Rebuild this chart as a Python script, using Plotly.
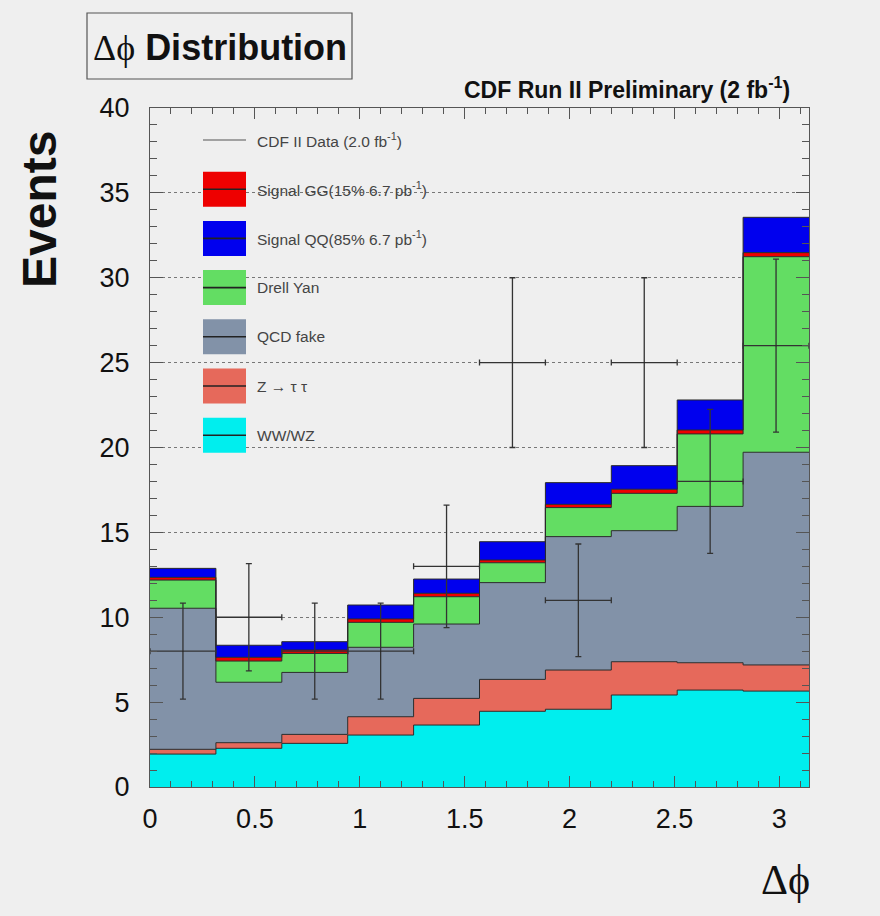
import numpy as np
import plotly.graph_objects as go

# Histogram binning: 10 bins over 0..pi
n_bins = 10
phi_min, phi_max = 0.0, np.pi

# Expected background / signal contributions per bin (events)
ww_wz = [1.94, 2.28, 2.57, 3.06, 3.65, 4.46, 4.58, 5.42, 5.71, 5.65]
z_tautau = [0.28, 0.33, 0.53, 1.08, 1.57, 1.88, 2.31, 1.96, 1.61, 1.54]
qcd_fake = [8.31, 3.56, 3.65, 4.09, 4.38, 5.70, 7.86, 7.72, 9.21, 12.53]
drell_yan = [1.66, 1.25, 1.12, 1.47, 1.61, 1.17, 1.71, 2.20, 4.27, 11.52]
signal_gg = [0.16, 0.22, 0.20, 0.20, 0.20, 0.16, 0.19, 0.24, 0.23, 0.24]
signal_qq = [0.53, 0.71, 0.49, 0.82, 0.84, 1.08, 1.28, 1.39, 1.77, 2.08]

# Observed events per bin
data_counts = [8, 10, 8, 8, 13, 25, 11, 25, 18, 26]

# Stack order (bottom -> top), legend labels and fill colours
components = [
    ("WW/WZ", ww_wz, "#00eeee"),
    ("Z → τ τ", z_tautau, "#e6695b"),
    ("QCD fake", qcd_fake, "#8292a8"),
    ("Drell Yan", drell_yan, "#63dd63"),
    ("Signal GG(15% 6.7 pb<sup>-1</sup>)", signal_gg, "#ee0000"),
    ("Signal QQ(85% 6.7 pb<sup>-1</sup>)", signal_qq, "#0000ee"),
]
# Legend listing order (top -> bottom)
legend_order = ["Signal GG", "Signal QQ", "Drell Yan", "QCD fake", "Z → τ τ", "WW/WZ"]

W, H = 880, 916
L, R, T, B = 150, 809, 108, 787
BG = "#efefef"
SANS = "Liberation Sans, Arial, sans-serif"
SERIF = "Liberation Serif, DejaVu Serif, serif"


def px_x(px):
    return (px - L) / (R - L)


def px_y(py):
    return (B - py) / (B - T)


edges = np.linspace(phi_min, phi_max, n_bins + 1)
centers = 0.5 * (edges[:-1] + edges[1:])
bin_w = edges[1] - edges[0]

fig = go.Figure()

cum = np.zeros(n_bins)
for i, (name, vals, col) in enumerate(components):
    cum = cum + np.asarray(vals, dtype=float)
    ys = np.append(cum, cum[-1])
    fig.add_trace(go.Scatter(
        x=edges, y=ys, mode="lines", line_shape="hv",
        line=dict(color="#2a2a2a", width=1),
        fill="tozeroy" if i == 0 else "tonexty",
        fillcolor=col, name=name, showlegend=False, hoverinfo="skip",
    ))

# Observed data with Poisson errors and bin-width horizontal bars
fig.add_trace(go.Scatter(
    x=centers, y=data_counts, mode="markers",
    marker=dict(size=1, color="#222"),
    error_x=dict(type="constant", value=bin_w / 2, color="#333",
                 thickness=1.3, width=3),
    error_y=dict(type="data", array=np.sqrt(data_counts), color="#333",
                 thickness=1.3, width=3),
    showlegend=False, hoverinfo="skip",
))

shapes = []
annotations = []

# Title box
shapes.append(dict(type="rect", xref="paper", yref="paper",
                   x0=px_x(87), x1=px_x(352), y0=px_y(79), y1=px_y(13),
                   line=dict(color="#555", width=1.2), fillcolor=BG, layer="above"))
annotations.append(dict(
    xref="paper", yref="paper", x=px_x(220), y=px_y(47),
    xanchor="center", yanchor="middle", showarrow=False,
    text=("<span style='font-family:Liberation Serif, DejaVu Serif, serif'>Δϕ</span>"
          " <b>Distribution</b>"),
    font=dict(family=SANS, size=36, color="#111"),
))

# Experiment label
annotations.append(dict(
    xref="paper", yref="paper", x=px_x(792), y=px_y(88),
    xanchor="right", yanchor="middle", showarrow=False,
    text="<b>CDF Run II Preliminary (2 fb<sup>-1</sup>)</b>",
    font=dict(family=SANS, size=23, color="#111"),
))

# Axis titles
annotations.append(dict(
    xref="paper", yref="paper", x=px_x(39), y=px_y(210),
    xanchor="center", yanchor="middle", showarrow=False, textangle=-90,
    text="<b>Events</b>", font=dict(family=SANS, size=48, color="#111"),
))
annotations.append(dict(
    xref="paper", yref="paper", x=px_x(812), y=px_y(880),
    xanchor="right", yanchor="middle", showarrow=False,
    text="Δϕ", font=dict(family=SERIF, size=42, color="#111"),
))

# Legend drawn inside the frame
leg_x0, leg_x1, leg_text_x = 203, 246, 255
leg_first_y, leg_step, box_h = 140, 49.2, 35
by_name = {name.split("(")[0]: (name, col) for name, _, col in components}
legend_rows = [("CDF II Data (2.0 fb<sup>-1</sup>)", None)] + [
    by_name[k] for k in legend_order
]
for k, (label, col) in enumerate(legend_rows):
    cy = leg_first_y + k * leg_step
    if col is not None:
        shapes.append(dict(type="rect", xref="paper", yref="paper",
                           x0=px_x(leg_x0), x1=px_x(leg_x1),
                           y0=px_y(cy + box_h / 2), y1=px_y(cy - box_h / 2),
                           line=dict(width=0), fillcolor=col, layer="above"))
    shapes.append(dict(type="line", xref="paper", yref="paper",
                       x0=px_x(leg_x0), x1=px_x(leg_x1), y0=px_y(cy), y1=px_y(cy),
                       line=dict(color="#222" if col else "#555",
                                 width=1.6 if col else 1.2),
                       layer="above"))
    annotations.append(dict(
        xref="paper", yref="paper", x=px_x(leg_text_x), y=px_y(cy),
        xanchor="left", yanchor="middle", showarrow=False,
        text=label, font=dict(family=SANS, size=15.5, color="#444"),
    ))

axis_common = dict(
    showline=True, linecolor="#555", linewidth=1, mirror="allticks",
    ticks="inside", tickcolor="#555", tickfont=dict(family=SANS, size=27, color="#111"),
    zeroline=False,
)

fig.update_layout(
    width=W, height=H,
    margin=dict(l=L, r=W - R, t=T, b=H - B),
    paper_bgcolor=BG, plot_bgcolor=BG,
    shapes=shapes, annotations=annotations,
    xaxis=dict(
        range=[phi_min, phi_max], tickvals=[0, 0.5, 1, 1.5, 2, 2.5, 3],
        ticktext=["0", "0.5", "1", "1.5", "2", "2.5", "3"],
        showgrid=False, ticklen=11, tickwidth=1, ticklabelstandoff=8,
        minor=dict(ticks="inside", dtick=0.1, tick0=0, ticklen=6,
                   tickcolor="#555", showgrid=False),
        **axis_common,
    ),
    yaxis=dict(
        range=[0, 40], dtick=5, tick0=0,
        showgrid=True, gridcolor="#777", griddash="dot", gridwidth=1,
        ticklen=13, tickwidth=1, ticklabelstandoff=14,
        minor=dict(ticks="inside", dtick=1, ticklen=7,
                   tickcolor="#555", showgrid=False),
        **axis_common,
    ),
)

fig.write_html("out.html")
